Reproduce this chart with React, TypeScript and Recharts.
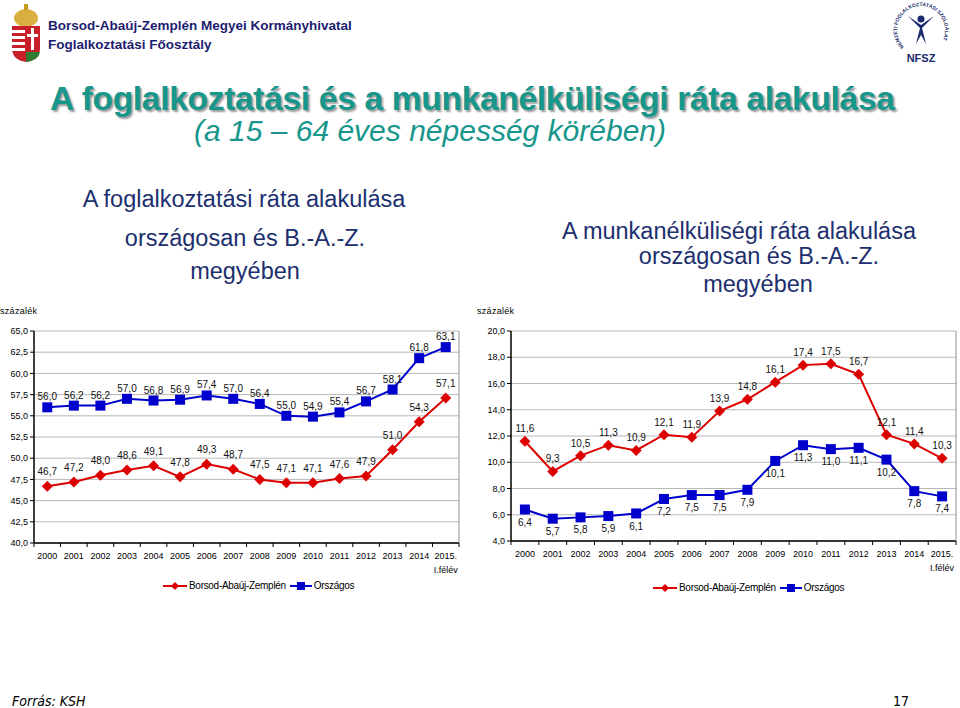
import React from 'react';
import { LineChart, Line, XAxis, YAxis, CartesianGrid, LabelList } from 'recharts';

const years = ['2000', '2001', '2002', '2003', '2004', '2005', '2006', '2007', '2008', '2009', '2010', '2011', '2012', '2013', '2014', '2015.\nI.félév'];

// foglalkoztatási ráta
const empBaz = [46.7, 47.2, 48.0, 48.6, 49.1, 47.8, 49.3, 48.7, 47.5, 47.1, 47.1, 47.6, 47.9, 51.0, 54.3, 57.1];
const empHu = [56.0, 56.2, 56.2, 57.0, 56.8, 56.9, 57.4, 57.0, 56.4, 55.0, 54.9, 55.4, 56.7, 58.1, 61.8, 63.1];
const empTicks = [40, 42.5, 45, 47.5, 50, 52.5, 55, 57.5, 60, 62.5, 65];

// munkanélküliségi ráta
const unBaz = [11.6, 9.3, 10.5, 11.3, 10.9, 12.1, 11.9, 13.9, 14.8, 16.1, 17.4, 17.5, 16.7, 12.1, 11.4, 10.3];
const unHu = [6.4, 5.7, 5.8, 5.9, 6.1, 7.2, 7.5, 7.5, 7.9, 10.1, 11.3, 11.0, 11.1, 10.2, 7.8, 7.4];
const unTicks = [4, 6, 8, 10, 12, 14, 16, 18, 20];

const empData = years.map((name, i) => ({ name, baz: empBaz[i], hu: empHu[i] }));
const unData = years.map((name, i) => ({ name, baz: unBaz[i], hu: unHu[i] }));

const RED = '#dd0000';
const BLUE = '#0000cc';
const FONT = '"Liberation Sans", Arial, sans-serif';

const fmt = (v: any) => Number(v).toFixed(1).replace('.', ',');

const Square = (props: any) => {
  const { cx, cy } = props;
  if (cx == null || cy == null) return null;
  return <rect x={cx - 5} y={cy - 5} width={10} height={10} fill={BLUE} />;
};

const Diamond = (props: any) => {
  const { cx, cy } = props;
  if (cx == null || cy == null) return null;
  const r = 5.5;
  return <path d={`M${cx},${cy - r}L${cx + r},${cy}L${cx},${cy + r}L${cx - r},${cy}Z`} fill={RED} />;
};

// x tick: label + tick mark on the category boundary
const makeXTick = (band: number) => (props: any) => {
  const { x, y, payload, index } = props;
  const lines = String(payload.value).split('\n');
  return (
    <g>
      <line x1={x + band / 2} x2={x + band / 2} y1={y} y2={y + 4} stroke="#000" />
      {index === 0 && <line x1={x - band / 2} x2={x - band / 2} y1={y} y2={y + 4} stroke="#000" />}
      {lines.map((l, i) => (
        <text key={i} x={x} y={y + 16 + i * 14} textAnchor="middle" fontSize={9} fontFamily={FONT} fill="#000">
          {l}
        </text>
      ))}
    </g>
  );
};

const LegendRow = ({ left, top }: { left: number; top: number }) => (
  <div style={{ position: 'absolute', left, top, display: 'flex', alignItems: 'center', fontFamily: FONT, fontSize: 10, color: '#000', letterSpacing: -0.3 }}>
    <svg width={24} height={10}>
      <line x1={0} x2={24} y1={5} y2={5} stroke={RED} strokeWidth={2} />
      <path d="M12,1L16,5L12,9L8,5Z" fill={RED} />
    </svg>
    <span style={{ marginLeft: 2, marginRight: 4 }}>Borsod-Abaúj-Zemplén</span>
    <svg width={22} height={10}>
      <line x1={0} x2={22} y1={5} y2={5} stroke={BLUE} strokeWidth={2} />
      <rect x={7} y={1} width={8} height={8} fill={BLUE} />
    </svg>
    <span style={{ marginLeft: 2 }}>Országos</span>
  </div>
);

const Panel = ({ data, ticks, domain, width, plotH, xHeight, redPos, bluePos, redOff, blueOff }: any) => {
  const plotW = width - 34 - 3;
  const band = plotW / years.length;
  return (
    <LineChart width={width} height={10 + plotH + xHeight} data={data} margin={{ top: 10, right: 3, left: 0, bottom: 0 }}>
      <CartesianGrid vertical={false} stroke="#b8b8b8" />
      <XAxis
        dataKey="name"
        scale="band"
        interval={0}
        height={xHeight}
        tickSize={0}
        tickMargin={0}
        tickLine={false}
        axisLine={{ stroke: '#000', strokeWidth: 1.5 }}
        tick={makeXTick(band)}
      />
      <YAxis
        domain={domain}
        ticks={ticks}
        width={34}
        interval={0}
        tickSize={4}
        tickFormatter={fmt}
        axisLine={{ stroke: '#000', strokeWidth: 1.5 }}
        tickLine={{ stroke: '#000' }}
        tick={{ fontSize: 9, fontFamily: FONT, fill: '#000' }}
      />
      <YAxis yAxisId="frame" orientation="right" width={1} tick={false} tickLine={false} axisLine={{ stroke: '#909090' }} />
      <Line dataKey="hu" stroke={BLUE} strokeWidth={2} dot={<Square />} isAnimationActive={false}>
        <LabelList dataKey="hu" position={bluePos} offset={blueOff} formatter={fmt} style={{ fontSize: 10, fontFamily: FONT, fill: '#111' }} />
      </Line>
      <Line dataKey="baz" stroke={RED} strokeWidth={2} dot={<Diamond />} isAnimationActive={false}>
        <LabelList dataKey="baz" position={redPos} offset={redOff} formatter={fmt} style={{ fontSize: 10, fontFamily: FONT, fill: '#111' }} />
      </Line>
    </LineChart>
  );
};

const Crest = () => (
  <svg width={36} height={58} style={{ position: 'absolute', left: 8, top: 4 }}>
    <ellipse cx={18} cy={14} rx={12} ry={9} fill="#d9b040" />
    <rect x={16} y={0} width={4} height={6} fill="#c89a20" />
    <path d="M4,22 H32 V44 Q32,56 18,58 Q4,56 4,44 Z" fill="#c8202a" />
    <rect x={4} y={26} width={13} height={3} fill="#fff" />
    <rect x={4} y={32} width={13} height={3} fill="#fff" />
    <rect x={4} y={38} width={13} height={3} fill="#fff" />
    <rect x={4} y={44} width={13} height={3} fill="#fff" />
    <rect x={23} y={24} width={3} height={22} fill="#fff" />
    <rect x={19} y={30} width={11} height={3} fill="#fff" />
    <path d="M18,48 H32 Q31,56 18,58 Z" fill="#2e7d32" />
  </svg>
);

const NfszLogo = () => (
  <svg width={74} height={68} style={{ position: 'absolute', left: 884, top: 0 }}>
    <defs>
      <path id="ring" d="M20,47 A24,24 0 1,1 54,47" />
    </defs>
    <text fontSize={5} fill="#1a2a6c" fontFamily={FONT} fontWeight="bold">
      <textPath href="#ring">NEMZETI FOGLALKOZTATÁSI SZOLGÁLAT</textPath>
    </text>
    <circle cx={37} cy={19} r={3.5} fill="#1a2a6c" />
    <path d="M24,16 L37,25 L50,16 L38,28 L42,44 L37,35 L32,44 L36,28 Z" fill="#1a2a6c" />
    <text x={37} y={62} textAnchor="middle" fontSize={11} fontWeight="bold" fill="#1a2a6c" fontFamily={FONT}>NFSZ</text>
  </svg>
);

const TITLE = '#17968c';
const SUB = '#1c2f6e';

const abs = (left: number, top: number, extra: React.CSSProperties = {}): React.CSSProperties => ({
  position: 'absolute', left, top, whiteSpace: 'nowrap', fontFamily: FONT, ...extra,
});

const center = (x: number, top: number, size: number, color: string): React.CSSProperties =>
  abs(x, top, { fontSize: size, color, transform: 'translateX(-50%)' });

export default function App() {
  return (
    <div style={{ position: 'absolute', left: 0, top: 0, width: 960, height: 708, background: '#fff', overflow: 'hidden' }}>
      <Crest />
      <NfszLogo />
      <div style={abs(48, 16, { fontSize: 13.5, fontWeight: 'bold', color: '#1d1d70', lineHeight: '19px' })}>
        Borsod-Abaúj-Zemplén Megyei Kormányhivatal<br />Foglalkoztatási Főosztály
      </div>

      <div style={abs(50, 80, { fontSize: 33.5, fontWeight: 'bold', color: TITLE, textShadow: '2px 2px 2px #999', letterSpacing: -0.3 })}>
        A foglalkoztatási és a munkanélküliségi ráta alakulása
      </div>
      <div style={abs(194, 114, { fontSize: 30, fontStyle: 'italic', color: TITLE })}>
        (a 15 – 64 éves népesség körében)
      </div>

      <div style={center(244, 186, 23.5, SUB)}>A foglalkoztatási ráta alakulása</div>
      <div style={center(245, 225, 23.5, SUB)}>országosan és B.-A.-Z.</div>
      <div style={center(245, 258, 23.5, SUB)}>megyében</div>

      <div style={center(739, 218, 23.5, SUB)}>A munkanélküliségi ráta alakulása</div>
      <div style={center(759, 243, 23.5, SUB)}>országosan és B.-A.-Z.</div>
      <div style={center(758, 271, 23.5, SUB)}>megyében</div>

      <div style={abs(0, 306, { fontSize: 9, letterSpacing: 0.3 })}>százalék</div>
      <div style={abs(477, 306, { fontSize: 9, letterSpacing: 0.3 })}>százalék</div>

      <div style={{ position: 'absolute', left: 0, top: 321 }}>
        <Panel data={empData} ticks={empTicks} domain={[40, 65]} width={463} plotH={212} xHeight={40} redPos="top" bluePos="top" redOff={11} blueOff={7} />
      </div>
      <div style={{ position: 'absolute', left: 477, top: 321 }}>
        <Panel data={unData} ticks={unTicks} domain={[4, 20]} width={483} plotH={210} xHeight={40} redPos="top" bluePos="bottom" redOff={9} blueOff={9} />
      </div>

      <LegendRow left={163} top={580} />
      <LegendRow left={653} top={582} />

      <div style={abs(12, 693, { fontSize: 14, fontStyle: 'italic', fontFamily: '"DejaVu Sans Condensed", "DejaVu Sans", sans-serif' })}>Forrás: KSH</div>
      <div style={abs(893, 693, { fontSize: 14, fontFamily: '"DejaVu Sans Condensed", "DejaVu Sans", sans-serif' })}>17</div>
    </div>
  );
}
